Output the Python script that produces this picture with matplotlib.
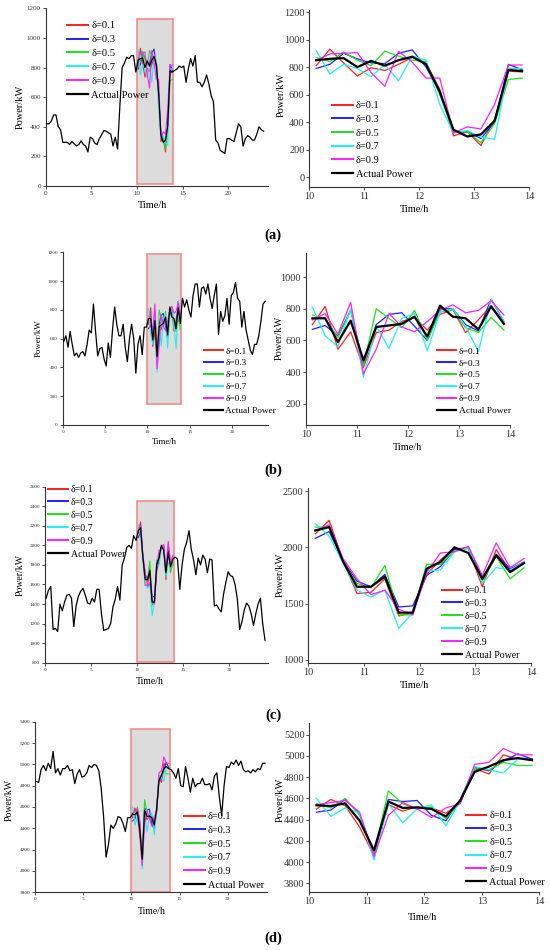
import numpy as np
import matplotlib
matplotlib.use('Agg')
import matplotlib.pyplot as plt
from matplotlib.patches import Rectangle

plt.rcParams['font.family'] = ['Liberation Serif', 'DejaVu Serif']

W, H = 550, 950

# labels and colours of the forecast curves
deltas = ['δ=0.1', 'δ=0.3', 'δ=0.5', 'δ=0.7', 'δ=0.9']
pred_colors = ['#ff2020', '#2020ff', '#20e020', '#20f0f0', '#ff20ff']

# 15-min sampling over the day and over the 10-14 h window
t_day = 0.125 + 0.25 * np.arange(96)
t_win = 10.125 + 0.25 * np.arange(16)

# ---- day (a) ----
before_a = [420, 420, 440, 480, 480, 400, 380, 295, 295, 295,
            280, 300, 285, 270, 280, 305, 280, 270, 230, 330,
            320, 290, 280, 320, 345, 375, 370, 360, 350, 270,
            330, 250, 540, 800, 830, 870, 860, 880, 880, 770]
window_a = [850, 860, 865, 800, 845, 810, 850, 875, 820, 620, 345, 295, 310, 410, 780, 770]
after_a = [780, 790, 810, 800, 810, 700, 790, 860, 810, 880,
           700, 700, 670, 700, 750, 690, 610, 570, 310, 290,
           240, 230, 220, 320, 320, 310, 300, 360, 420, 400,
           270, 320, 340, 330, 310, 310, 350, 400, 380, 370]
pred_a = [[810, 930, 830, 735, 795, 775, 820, 870, 830, 640, 300, 330, 230, 420, 770, 765],
          [790, 820, 900, 860, 830, 825, 900, 925, 800, 620, 330, 330, 280, 400, 820, 780],
          [870, 840, 910, 850, 810, 915, 880, 850, 840, 600, 330, 330, 250, 390, 710, 720],
          [920, 750, 820, 790, 730, 820, 700, 880, 850, 530, 320, 340, 290, 275, 790, 790],
          [850, 895, 900, 905, 760, 660, 915, 835, 720, 720, 320, 365, 350, 530, 815, 815]]

# ---- day (b) ----
before_b = [580, 620, 540, 650, 560, 480, 500, 470, 500, 510,
            480, 560, 660, 640, 840, 650, 480, 530, 540, 460,
            410, 570, 470, 660, 820, 700, 620, 620, 700, 540,
            440, 600, 700, 600, 360, 560, 620, 490, 680, 680]
window_b = [740, 740, 590, 725, 475, 685, 695, 705, 750, 625, 820, 750, 740, 670, 815, 705]
after_b = [880, 820, 870, 800, 750, 900, 980, 980, 820, 950,
           960, 910, 980, 880, 810, 900, 980, 630, 790, 720,
           760, 880, 700, 900, 920, 990, 880, 860, 680, 790,
           660, 590, 520, 490, 560, 560, 620, 720, 840, 860]
pred_b = [[700, 815, 545, 655, 430, 650, 665, 720, 745, 665, 765, 795, 650, 730, 820, 710],
          [670, 695, 630, 790, 450, 700, 765, 775, 690, 600, 800, 800, 700, 660, 860, 720],
          [760, 740, 620, 790, 440, 800, 740, 680, 790, 600, 780, 795, 680, 650, 745, 665],
          [810, 630, 560, 800, 370, 690, 550, 740, 770, 535, 780, 800, 690, 530, 860, 720],
          [730, 770, 640, 840, 390, 545, 770, 685, 655, 720, 790, 825, 775, 790, 850, 760]]

# ---- day (c) ----
before_c = [1460, 1540, 1580, 1140, 1150, 1120, 1400, 1330, 1420, 1490,
            1500, 1460, 1170, 1380, 1480, 1530, 1560, 1490, 1410, 1400,
            1460, 1420, 1550, 1550, 1300, 1130, 1140, 1150, 1200, 1370,
            1450, 1580, 1440, 1800, 1870, 1980, 2000, 1970, 2100, 2050]
window_c = [2150, 2180, 1873, 1650, 1650, 1740, 1420, 1420, 1810, 1870, 2000, 1950, 1720, 1930, 1780, 1860]
after_c = [1880, 1860, 1550, 1800, 1960, 2030, 2150, 1960, 1850, 1700,
           1870, 1800, 1900, 1860, 1720, 1860, 1850, 1380, 1390, 1350,
           1320, 1500, 1620, 1730, 1690, 1680, 1600, 1450, 1140, 1220,
           1340, 1410, 1380, 1300, 1180, 1300, 1400, 1460, 1200, 1030]
pred_c = [[2120, 2240, 1880, 1590, 1600, 1720, 1390, 1420, 1760, 1890, 1990, 1990, 1650, 1980, 1790, 1860],
          [2080, 2140, 1880, 1700, 1650, 1760, 1470, 1480, 1750, 1830, 1980, 2000, 1730, 1940, 1810, 1870],
          [2180, 2180, 1870, 1680, 1640, 1840, 1400, 1400, 1850, 1850, 1970, 1990, 1700, 1920, 1720, 1820],
          [2210, 2100, 1860, 1620, 1560, 1620, 1280, 1420, 1790, 1800, 1960, 2000, 1680, 1820, 1800, 1870],
          [2150, 2200, 1900, 1720, 1580, 1620, 1450, 1400, 1780, 1950, 1960, 2010, 1750, 2040, 1820, 1900]]

# ---- day (d) ----
before_d = [4840, 4830, 4950, 4990, 4940, 5010, 4960, 5120, 4920, 4960,
            4900, 4960, 4960, 4990, 4940, 4950, 4820, 4910, 4950, 4880,
            4890, 4920, 4990, 4970, 5000, 4990, 4940, 4770, 4500, 4130,
            4250, 4430, 4400, 4440, 4510, 4500, 4450, 4370, 4500, 4500]
window_d = [4535, 4528, 4553, 4390, 4110, 4570, 4510, 4515, 4500, 4430, 4580, 4850, 4900, 4960, 4980, 4960]
after_d = [4950, 4920, 4870, 4960, 4800, 4790, 4980, 4870, 4740, 4870,
           4790, 4820, 4820, 4870, 4810, 4810, 4820, 4760, 4890, 4920,
           4700, 4520, 4800, 4980, 4970, 5020, 5000, 5040, 4990, 5030,
           4950, 4930, 4940, 4920, 4950, 4930, 4960, 4950, 5010, 5010]
pred_d = [[4500, 4590, 4530, 4330, 4060, 4540, 4480, 4520, 4510, 4460, 4560, 4880, 4830, 5010, 4970, 4970],
          [4470, 4490, 4590, 4450, 4080, 4590, 4570, 4580, 4440, 4390, 4590, 4890, 4860, 4950, 5020, 4970],
          [4550, 4510, 4600, 4440, 4080, 4670, 4550, 4500, 4520, 4410, 4560, 4880, 4870, 4940, 4910, 4910],
          [4600, 4430, 4510, 4460, 4020, 4550, 4370, 4500, 4540, 4340, 4580, 4900, 4870, 4840, 4970, 4960],
          [4540, 4560, 4580, 4470, 4050, 4440, 4560, 4500, 4420, 4510, 4550, 4920, 4940, 5070, 5010, 5010]]

panel_tags = ['(a)', '(b)', '(c)', '(d)']


def fx(px):
    return px / W


def fy(py):
    return 1 - py / H


def make_axes(fig, x0, x1, ytop, ybot):
    # pixel box -> figure fraction
    return fig.add_axes([fx(x0), fy(ybot), (x1 - x0) / W, (ybot - ytop) / H])


def style(ax, tick_fs):
    ax.spines['top'].set_visible(False)
    ax.spines['right'].set_visible(False)
    ax.tick_params(direction='out', length=2, width=0.6, labelsize=tick_fs, pad=1.5, colors='#333333')
    for s in ('left', 'bottom'):
        ax.spines[s].set_linewidth(0.8)
        ax.spines[s].set_color('#333333')


def put_labels(ax, fig, xl, yl, fs):
    ax.set_xlabel('Time/h', fontsize=fs)
    ax.set_ylabel('Power/kW', fontsize=fs)
    ax.xaxis.set_label_coords(fx(xl[0]), fy(xl[1]), transform=fig.transFigure)
    ax.yaxis.set_label_coords(fx(yl[0]), fy(yl[1]), transform=fig.transFigure)
    ax.xaxis.label.set_verticalalignment('center')
    ax.yaxis.label.set_verticalalignment('center')


def put_legend(ax, fig, x, y, fs, spacing):
    leg = ax.legend(loc='upper left', bbox_to_anchor=(fx(x), fy(y)), bbox_transform=fig.transFigure,
                    frameon=False, borderpad=0, borderaxespad=0, handlelength=2.0,
                    handletextpad=0.3, labelspacing=spacing, fontsize=fs)
    lines = leg.get_lines()
    for ln in lines[:-1]:
        ln.set_linewidth(1.4)
    lines[-1].set_linewidth(1.6)
    return leg


def draw_day(ax, before, window, after, preds, box):
    actual = np.concatenate([before, window, after])
    ax.add_patch(Rectangle((10, box[0]), 4, box[1] - box[0], facecolor='#dcdcdc',
                           edgecolor='#f08c8c', lw=1.2, zorder=1))
    for p, c, lab in zip(preds, pred_colors, deltas):
        ax.plot(t_win, p, color=c, lw=0.8, label=lab, zorder=2)
    ax.plot(t_day, actual, color='black', lw=0.9, label='Actual Power', zorder=3)
    ax.set_xticks([0, 5, 10, 15, 20])


def draw_zoom(ax, window, preds):
    for p, c, lab in zip(preds, pred_colors, deltas):
        ax.plot(t_win, p, color=c, lw=0.9, label=lab, zorder=2)
    ax.plot(t_win, window, color='black', lw=1.6, label='Actual Power', zorder=3)
    ax.set_xlim(10, 14)
    ax.set_xticks([10, 11, 12, 13, 14])


fig = plt.figure(figsize=(W / 100, H / 100), dpi=100)

# ---------- row (a) ----------
ax = make_axes(fig, 45.7, 267.5, 8.3, 186)
draw_day(ax, before_a, window_a, after_a, pred_a, (15, 1130))
ax.set_xlim(0, 24.3)
ax.set_ylim(0, 1200)
ax.set_yticks(range(0, 1201, 200))
style(ax, 5)
put_labels(ax, fig, (153, 205), (20, 107), 7.5)
put_legend(ax, fig, 67, 21, 7.6, 0.42)

ax = make_axes(fig, 309.3, 529, 10, 186.7)
draw_zoom(ax, window_a, pred_a)
ax.set_ylim(-70, 1215)
ax.set_yticks(range(0, 1201, 200))
style(ax, 7.5)
put_labels(ax, fig, (415, 210), (281, 95), 7.5)
put_legend(ax, fig, 332, 101, 7.5, 0.42)

# ---------- row (b) ----------
ax = make_axes(fig, 62.7, 267.9, 252.3, 425)
draw_day(ax, before_b, window_b, after_b, pred_b, (145, 1190))
ax.set_xlim(0, 24.2)
ax.set_ylim(0, 1200)
ax.set_yticks(range(0, 1201, 200))
style(ax, 3.8)
put_labels(ax, fig, (164, 442), (39, 338), 6.3)
put_legend(ax, fig, 204, 347, 6.7, 0.36)

ax = make_axes(fig, 306, 510.3, 253.3, 425.3)
draw_zoom(ax, window_b, pred_b)
ax.set_ylim(65, 1150)
ax.set_yticks(range(200, 1001, 200))
style(ax, 7.5)
put_labels(ax, fig, (408, 447), (279, 338), 7.5)
put_legend(ax, fig, 437, 347, 6.8, 0.35)

# ---------- row (c) ----------
ax = make_axes(fig, 45, 268, 486.7, 662.7)
draw_day(ax, before_c, window_c, after_c, pred_c, (810, 2450))
ax.set_xlim(0, 24.2)
ax.set_ylim(800, 2600)
ax.set_yticks(range(800, 2601, 200))
style(ax, 3.8)
put_labels(ax, fig, (150, 681), (20, 575), 7)
put_legend(ax, fig, 48, 485, 7.1, 0.4)

ax = make_axes(fig, 308.3, 531, 487.7, 663.3)
draw_zoom(ax, window_c, pred_c)
ax.set_ylim(970, 2530)
ax.set_yticks([1000, 1500, 2000, 2500])
style(ax, 7.5)
put_labels(ax, fig, (415, 686), (280, 575), 7.5)
put_legend(ax, fig, 442, 586, 7.1, 0.4)

# ---------- row (d) ----------
ax = make_axes(fig, 35, 267.2, 721.7, 892.3)
draw_day(ax, before_d, window_d, after_d, pred_d, (3800, 5330))
ax.set_xlim(0, 24.1)
ax.set_ylim(3800, 5400)
ax.set_yticks(range(3800, 5401, 200))
style(ax, 3.8)
put_labels(ax, fig, (152, 911), (9, 800), 7)
put_legend(ax, fig, 184, 812, 7.4, 0.44)

ax = make_axes(fig, 309.3, 539.3, 722.7, 892.3)
draw_zoom(ax, window_d, pred_d)
ax.set_ylim(3715, 5313)
ax.set_yticks(range(3800, 5201, 200))
style(ax, 7.5)
put_labels(ax, fig, (423, 917), (280, 800), 7.5)
put_legend(ax, fig, 466, 811, 7.3, 0.42)

# sub-figure tags
for tag, ypix in zip(panel_tags, [235, 470, 715, 938]):
    fig.text(fx(273), fy(ypix), tag, ha='center', va='center', fontsize=10.5, fontweight='bold')

fig.savefig('out.png', dpi=100, facecolor='white')
